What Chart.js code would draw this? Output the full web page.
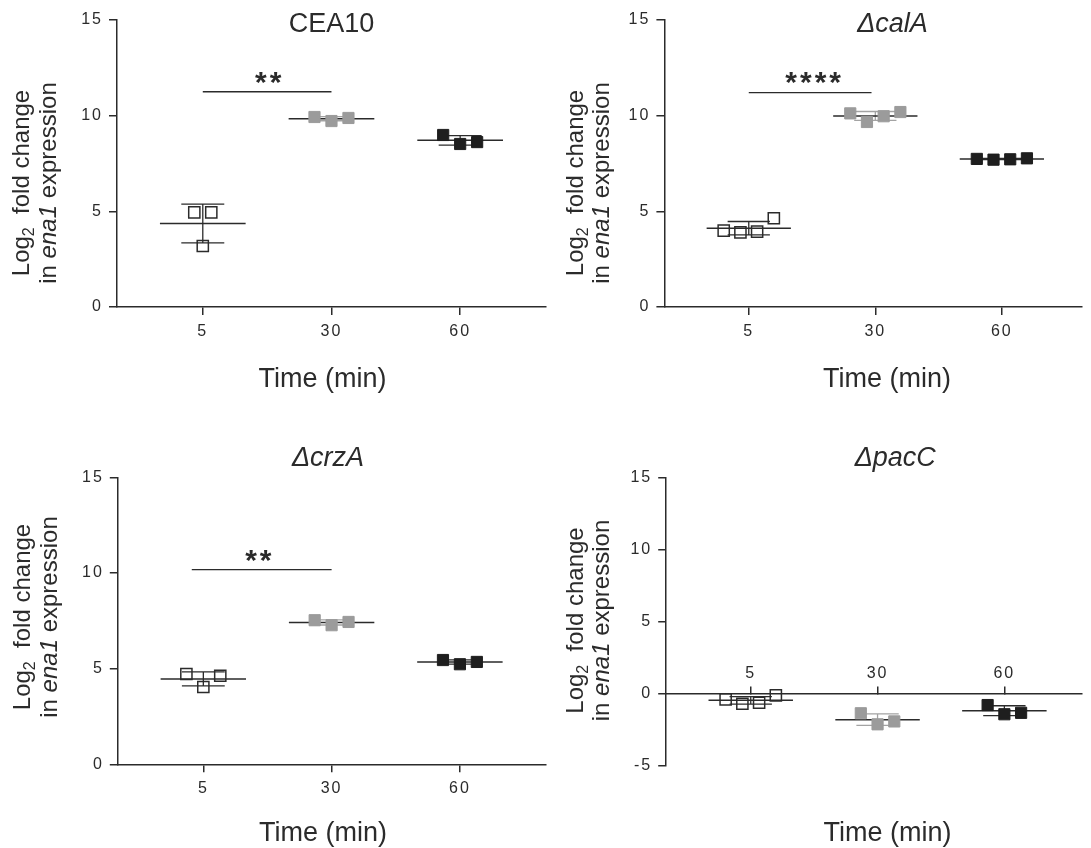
<!DOCTYPE html>
<html>
<head>
<meta charset="utf-8">
<script src="https://cdn.jsdelivr.net/npm/chart.js@4.4.1/dist/chart.umd.min.js"></script>
<style>
  html, body { margin: 0; padding: 0; background: #fff; }
  #wrap { position: relative; width: 1091px; height: 848px; overflow: hidden; }
  canvas { position: absolute; }
</style>
</head>
<body>
<div id="wrap">
  <canvas id="c0" width="555" height="424" style="left:0;top:0"></canvas>
  <canvas id="c1" width="546" height="424" style="left:545px;top:0"></canvas>
  <canvas id="c2" width="555" height="424" style="left:0;top:424px"></canvas>
  <canvas id="c3" width="546" height="424" style="left:545px;top:424px"></canvas>
</div>
<script>
// x categories (minutes after stress)
const timeLabels = ['5', '30', '60'];
const strainNames = ['CEA10', 'ΔcalA', 'ΔcrzA', 'ΔpacC'];

// Log2 fold change in ena1 expression, one array per strain and time point
const cea10_5 = [4.95, 4.95, 3.19];
const cea10_30 = [9.93, 9.72, 9.88];
const cea10_60 = [8.99, 8.52, 8.62];

const calA_5 = [3.99, 3.90, 3.94, 4.64];
const calA_30 = [10.12, 9.67, 9.97, 10.19];
const calA_60 = [7.74, 7.70, 7.72, 7.77];

const crzA_5 = [4.72, 4.04, 4.63];
const crzA_30 = [7.53, 7.27, 7.44];
const crzA_60 = [5.45, 5.23, 5.35];

const pacC_5 = [-0.42, -0.72, -0.65, -0.14];
const pacC_30 = [-1.38, -2.15, -1.95];
const pacC_60 = [-0.81, -1.45, -1.35];

// y axis ranges
const yMins = [0, 0, 0, -5];
const yMaxs = [15, 15, 15, 15];

// significance brackets (5 vs 30 min), null = none
const sigFrom = [1.0, 1.0, 0.91, null];
const sigTo = [2.0, 1.97, 2.0, null];
const sigLevel = [11.25, 11.2, 10.17, null];
const sigText = ['**', '****', '**', null];
const sigStarX = [1.51, 1.51, 1.43, null];
const sigStarY = [11.95, 11.96, 10.89, null];

const groupsByPanel = [
    [cea10_5, cea10_30, cea10_60],
    [calA_5, calA_30, calA_60],
    [crzA_5, crzA_30, crzA_60],
    [pacC_5, pacC_30, pacC_60]
];

const FONT = '"Liberation Sans", Arial, Helvetica, sans-serif';
const INK = '#2b2b2b';
const markFill = ['rgba(0,0,0,0)', '#9b9b9b', '#1e1e1e'];
const markEdge = ['#2b2b2b', '#9b9b9b', '#1e1e1e'];
const markEdgeW = [1.5, 1, 1];
const sdColor = ['#2b2b2b', '#a3a3a3', '#2b2b2b'];

// canvas-local geometry of each panel
const panels = [
    { id: 'c0', left: 117, top: 20, bottom: 307, right: 550, xMax: 3.664,
      title: [331.6, 32.3], xTitle: [322.5, 386.7], yTitle: [28.5, 55.5, 183] },
    { id: 'c1', left: 119.4, top: 20, bottom: 307, right: 546, xMax: 3.63,
      title: [347.5, 32.3], xTitle: [342, 386.7], yTitle: [37.5, 63.5, 183] },
    { id: 'c2', left: 117.8, top: 53.3, bottom: 340.3, right: 550, xMax: 3.668,
      title: [328, 42], xTitle: [323, 416.7], yTitle: [29.5, 56.5, 193] },
    { id: 'c3', left: 121.2, top: 53.7, bottom: 341.3, right: 546, xMax: 3.609,
      title: [350.3, 42], xTitle: [342.4, 416.7], yTitle: [37.5, 63.5, 196.5] }
];

const mean = a => a.reduce((s, v) => s + v, 0) / a.length;
const sd = a => { const m = mean(a); return Math.sqrt(a.reduce((s, v) => s + (v - m) * (v - m), 0) / (a.length - 1)); };

// column scatter: values that sit close together share a row and are spread sideways
function spread(values, range) {
    const gap = range * 0.07;
    const idx = values.map((v, i) => i).sort((a, b) => values[a] - values[b]);
    const rows = [];
    let cur = [idx[0]];
    for (let k = 1; k < idx.length; k++) {
        if (values[idx[k]] - values[idx[k - 1]] < gap) cur.push(idx[k]);
        else { rows.push(cur); cur = [idx[k]]; }
    }
    rows.push(cur);
    const off = new Array(values.length).fill(0);
    rows.forEach(r => {
        r.sort((a, b) => a - b);
        r.forEach((i, k) => { off[i] = (k - (r.length - 1) / 2) * 0.132; });
    });
    return off;
}

function buildDatasets(p) {
    const groups = groupsByPanel[p];
    const range = yMaxs[p] - yMins[p];
    const ds = [];
    groups.forEach((vals, g) => {
        const c = g + 1;
        const off = spread(vals, range);
        ds.push({
            type: 'scatter',
            data: vals.map((v, i) => ({ x: c + off[i], y: v })),
            pointStyle: 'rect', pointRadius: 7.9, pointHoverRadius: 7.9,
            pointBackgroundColor: markFill[g], pointBorderColor: markEdge[g],
            pointBorderWidth: markEdgeW[g], order: 0
        });
    });
    groups.forEach((vals, g) => {
        const c = g + 1, m = mean(vals), s = sd(vals);
        ds.push({
            type: 'line',
            data: [
                { x: c - 0.167, y: m + s }, { x: c + 0.167, y: m + s }, { x: c, y: null },
                { x: c - 0.167, y: m - s }, { x: c + 0.167, y: m - s }, { x: c, y: null },
                { x: c, y: m + s }, { x: c, y: m - s }
            ],
            borderColor: sdColor[g], borderWidth: 1.3, pointRadius: 0, tension: 0, order: 2
        });
    });
    ds.push({
        type: 'line',
        data: groups.flatMap((vals, g) => [
            { x: g + 1 - 0.333, y: mean(vals) }, { x: g + 1 + 0.333, y: mean(vals) }, { x: g + 1, y: null }
        ]),
        borderColor: INK, borderWidth: 1.5, pointRadius: 0, tension: 0, order: 1
    });
    if (sigText[p]) {
        ds.push({
            type: 'line',
            data: [{ x: sigFrom[p], y: sigLevel[p] }, { x: sigTo[p], y: sigLevel[p] }],
            borderColor: INK, borderWidth: 1.3, pointRadius: 0, order: 1
        });
    }
    return ds;
}

const textPlugin = {
    id: 'panelText',
    beforeDraw(chart) {
        chart.ctx.letterSpacing = '2px'; // spaced tick digits
    },
    afterDraw(chart) {
        const p = chart.options.plugins.panelText.index;
        const cfg = panels[p];
        const ctx = chart.ctx;
        ctx.save();
        ctx.letterSpacing = '0px';
        ctx.fillStyle = INK;
        ctx.textBaseline = 'alphabetic';
        ctx.textAlign = 'center';

        ctx.font = (p === 0 ? '' : 'italic ') + '27px ' + FONT;
        ctx.fillText(strainNames[p], cfg.title[0], cfg.title[1]);

        ctx.font = '27px ' + FONT;
        ctx.fillText('Time (min)', cfg.xTitle[0], cfg.xTitle[1]);

        if (sigText[p]) {
            ctx.font = 'bold 30px ' + FONT;
            ctx.letterSpacing = '3px';
            ctx.textAlign = 'left';
            const m = ctx.measureText(sigText[p]);
            const cx = chart.scales.x.getPixelForValue(sigStarX[p]);
            const cy = chart.scales.y.getPixelForValue(sigStarY[p]);
            ctx.fillText(sigText[p],
                cx - (m.actualBoundingBoxRight - m.actualBoundingBoxLeft) / 2,
                cy + (m.actualBoundingBoxAscent - m.actualBoundingBoxDescent) / 2);
            ctx.letterSpacing = '0px';
        }

        const lines = [
            [['Log', '24px ' + FONT, 0], ['2', '16px ' + FONT, 5], ['  fold change', '24px ' + FONT, 0]],
            [['in ', '24px ' + FONT, 0], ['ena1', 'italic 24px ' + FONT, 0], [' expression', '24px ' + FONT, 0]]
        ];
        ctx.textAlign = 'left';
        lines.forEach((segs, li) => {
            let total = 0;
            segs.forEach(s => { ctx.font = s[1]; total += ctx.measureText(s[0]).width; });
            ctx.save();
            ctx.translate(cfg.yTitle[li], cfg.yTitle[2]);
            ctx.rotate(-Math.PI / 2);
            let x = -total / 2;
            segs.forEach(s => {
                ctx.font = s[1];
                ctx.fillText(s[0], x, s[2]);
                x += ctx.measureText(s[0]).width;
            });
            ctx.restore();
        });
        ctx.restore();
    }
};

panels.forEach((cfg, p) => {
    const canvas = document.getElementById(cfg.id);
    const H = canvas.height, W = canvas.width;
    const pacc = yMins[p] < 0;
    new Chart(canvas, {
        type: 'scatter',
        data: { datasets: buildDatasets(p) },
        plugins: [textPlugin],
        options: {
            responsive: false, animation: false, devicePixelRatio: 1,
            layout: { padding: { left: 0, top: cfg.top, right: W - cfg.right, bottom: pacc ? H - cfg.bottom : 0 } },
            plugins: { legend: { display: false }, tooltip: { enabled: false }, panelText: { index: p } },
            events: [],
            scales: {
                x: {
                    type: 'linear', min: 1 / 3, max: cfg.xMax,
                    position: pacc ? { y: 0 } : 'bottom',
                    afterFit: s => { s.height = H - cfg.bottom; },
                    afterBuildTicks: s => { s.ticks = timeLabels.map((t, i) => ({ value: i + 1 })); },
                    ticks: {
                        callback: v => timeLabels[Math.round(v) - 1],
                        font: { family: FONT, size: 16 }, color: INK,
                        padding: pacc ? -21.6 : 7, autoSkip: false, maxRotation: 0
                    },
                    grid: { display: true, drawOnChartArea: false, drawTicks: true, tickLength: pacc ? -8 : 8, color: INK, lineWidth: 1.5 },
                    border: { display: true, color: INK, width: 1.5 }
                },
                y: {
                    type: 'linear', min: yMins[p], max: yMaxs[p],
                    afterFit: s => { s.width = cfg.left; },
                    ticks: { stepSize: 5, font: { family: FONT, size: 16 }, color: INK, padding: 6 },
                    grid: { display: true, drawOnChartArea: false, drawTicks: true, tickLength: 8, color: INK, lineWidth: 1.5 },
                    border: { display: true, color: INK, width: 1.5 }
                }
            }
        }
    });
});
</script>
</body>
</html>
